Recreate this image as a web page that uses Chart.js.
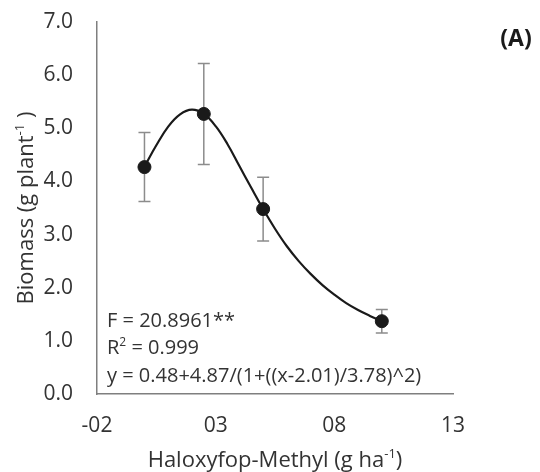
<!DOCTYPE html>
<html>
<head>
<meta charset="utf-8">
<script src="https://cdn.jsdelivr.net/npm/chart.js@4.4.1/dist/chart.umd.min.js"></script>
<style>
    html, body { margin: 0; padding: 0; background: #ffffff; }
    #wrap { width: 540px; height: 472px; }
</style>
</head>
<body>
<div id="wrap"><canvas id="biomassChart" width="540" height="472"></canvas></div>
<script>
// --- data ---
const doses = [0, 2.5, 5, 10];
const biomass = [4.27, 5.27, 3.48, 1.37];
const biomassSd = [0.65, 0.95, 0.60, 0.22];

// fitted curve
const curveX = [0, 0.5, 1, 1.5, 2, 2.5, 3, 3.5, 4, 4.5, 5, 5.5, 6, 6.5, 7, 7.5, 8, 8.5, 9, 9.5, 10];
const curveY = [4.28, 4.68, 5.03, 5.26, 5.35, 5.27, 5.04, 4.70, 4.29, 3.88, 3.48, 3.11, 2.78, 2.50, 2.26, 2.05, 1.87, 1.71, 1.58, 1.47, 1.37];

const xTicks = [-2, 3, 8, 13];
const xTickLabels = ['-02', '03', '08', '13'];
const yTickLabels = ['0.0', '1.0', '2.0', '3.0', '4.0', '5.0', '6.0', '7.0'];

const statLines = [
    [{ t: 'F = 20.8961**' }],
    [{ t: 'R' }, { t: '2', sup: true }, { t: ' = 0.999' }],
    [{ t: 'y = 0.48+4.87/(1+((x-2.01)/3.78)^2)' }]
];

const FONT = "'Open Sans', sans-serif";
const TEXT = '#333333';
const AXIS = '#7f7f7f';

// draws a run of text with optional superscripts
function drawRich(ctx, parts, x, y, size, align) {
    const supSize = Math.round(size * 0.6);
    let total = 0;
    parts.forEach(p => {
        ctx.font = (p.sup ? supSize : size) + 'px ' + FONT;
        p.w = ctx.measureText(p.t).width;
        total += p.w;
    });
    let cx = align === 'center' ? x - total / 2 : x;
    ctx.textAlign = 'left';
    ctx.textBaseline = 'alphabetic';
    parts.forEach(p => {
        ctx.font = (p.sup ? supSize : size) + 'px ' + FONT;
        ctx.fillText(p.t, cx, p.sup ? y - size * 0.42 : y);
        cx += p.w;
    });
}

// --- plugin: error bars (behind markers) ---
const errorBars = {
    id: 'errorBars',
    beforeDatasetsDraw(chart) {
        const { ctx, scales: { x, y } } = chart;
        ctx.save();
        ctx.strokeStyle = '#8c8c8c';
        ctx.lineWidth = 1.5;
        doses.forEach((d, i) => {
            const px = x.getPixelForValue(d);
            const top = y.getPixelForValue(biomass[i] + biomassSd[i]);
            const bot = y.getPixelForValue(biomass[i] - biomassSd[i]);
            ctx.beginPath();
            ctx.moveTo(px, top); ctx.lineTo(px, bot);
            ctx.moveTo(px - 6, top); ctx.lineTo(px + 6, top);
            ctx.moveTo(px - 6, bot); ctx.lineTo(px + 6, bot);
            ctx.stroke();
        });
        ctx.restore();
    }
};

// --- plugin: axis titles, stats text, panel letter ---
const labels = {
    id: 'labels',
    afterDraw(chart) {
        const { ctx, chartArea } = chart;
        ctx.save();
        ctx.fillStyle = TEXT;

        statLines.forEach((line, i) => {
            drawRich(ctx, line, chartArea.left + 10, 327 + i * 27.3, 20, 'left');
        });

        drawRich(ctx, [{ t: 'Haloxyfop-Methyl (g ha' }, { t: '-1', sup: true }, { t: ')' }],
            (chartArea.left + chartArea.right) / 2, 467, 22, 'center');

        ctx.save();
        ctx.translate(33, (chartArea.top + chartArea.bottom) / 2);
        ctx.rotate(-Math.PI / 2);
        drawRich(ctx, [{ t: 'Biomass (g plant' }, { t: '-1', sup: true }, { t: ' )' }], 0, 0, 22, 'center');
        ctx.restore();

        ctx.font = 'bold 23px ' + FONT;
        ctx.textAlign = 'center';
        ctx.textBaseline = 'alphabetic';
        ctx.fillStyle = '#1a1a1a';
        ctx.fillText('(A)', 516, 46);
        ctx.restore();
    }
};

const ctx = document.getElementById('biomassChart').getContext('2d');
new Chart(ctx, {
    type: 'scatter',
    data: {
        datasets: [
            {
                label: 'Biomass',
                data: doses.map((d, i) => ({ x: d, y: biomass[i] })),
                backgroundColor: '#1a1a1a',
                borderColor: '#1a1a1a',
                pointRadius: 6.5,
                pointHoverRadius: 6.5,
                showLine: false
            },
            {
                label: 'Fit',
                data: curveX.map((v, i) => ({ x: v, y: curveY[i] })),
                borderColor: '#1a1a1a',
                borderWidth: 2.2,
                pointRadius: 0,
                pointHoverRadius: 0,
                showLine: true,
                tension: 0.4
            }
        ]
    },
    options: {
        responsive: false,
        animation: false,
        events: [],
        layout: { autoPadding: false, padding: { top: 22, right: 87, left: 0, bottom: 0 } },
        plugins: {
            legend: { display: false },
            tooltip: { enabled: false }
        },
        scales: {
            x: {
                type: 'linear',
                min: -2,
                max: 13,
                afterFit: scale => { scale.height = 78; },
                afterBuildTicks: scale => { scale.ticks = xTicks.map(v => ({ value: v })); },
                ticks: {
                    padding: 19,
                    color: TEXT,
                    font: { family: FONT, size: 21 },
                    maxRotation: 0,
                    callback: (value) => xTickLabels[xTicks.indexOf(value)]
                },
                grid: { display: false, drawTicks: false },
                border: { display: true, color: AXIS, width: 1.5 }
            },
            y: {
                min: 0,
                max: 7,
                afterFit: scale => {
                    scale.width = 97;
                    scale.paddingTop = 0;
                    scale.paddingBottom = 0;
                },
                ticks: {
                    stepSize: 1,
                    padding: 24,
                    color: TEXT,
                    font: { family: FONT, size: 21 },
                    callback: (value) => yTickLabels[value]
                },
                grid: { display: false, drawTicks: false },
                border: { display: true, color: AXIS, width: 1.5 }
            }
        }
    },
    plugins: [errorBars, labels]
});
</script>
</body>
</html>
